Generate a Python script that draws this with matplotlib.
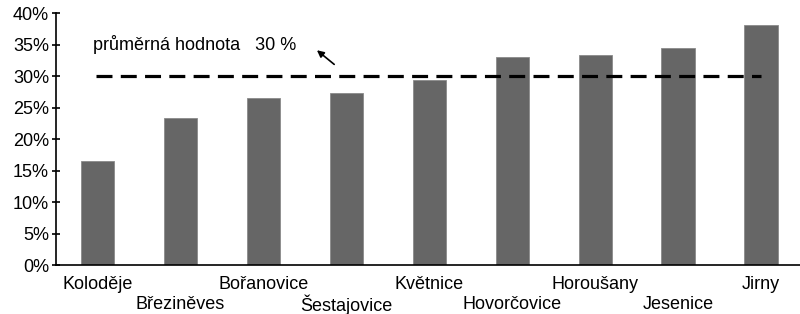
import matplotlib
matplotlib.use("Agg")
import matplotlib.pyplot as plt

# data
obce = ["Koloděje", "Březiněves", "Bořanovice", "Šestajovice", "Květnice",
        "Hovorčovice", "Horoušany", "Jesenice", "Jirny"]
podil = [16.6, 23.3, 26.5, 27.3, 29.4, 33.1, 33.4, 34.4, 38.1]
prumer = 30
yticks = [0, 5, 10, 15, 20, 25, 30, 35, 40]

plt.rcParams['font.family'] = ['Liberation Sans', 'DejaVu Sans']

fig = plt.figure(figsize=(8, 3.14), dpi=100)
ax = fig.add_axes([0.07, 0.155, 0.93, 0.803])

x = list(range(len(obce)))
ax.bar(x, podil, width=0.4, color='#666666', edgecolor='#8a8a8a', linewidth=0.6)

# average line
ax.plot([-0.02, 8.0], [prumer, prumer], color='black', linestyle=(0, (5, 2.6)), linewidth=2.3)
ax.text(-0.05, 35.1, f"průměrná hodnota   {prumer} %", fontsize=13, va='center', ha='left')
ax.annotate("", xy=(2.62, 34.4), xytext=(2.88, 31.6),
            arrowprops=dict(arrowstyle='-|>', color='black', lw=1.2, mutation_scale=10))

ax.set_xlim(-0.5, 8.47)
ax.set_ylim(0, 40)
ax.set_yticks(yticks)
ax.set_yticklabels([f"{t}%" for t in yticks], fontsize=13)
ax.tick_params(axis='y', direction='inout', length=6, width=1.2, pad=2)
ax.set_xticks([])

for i, name in enumerate(obce):
    yy = -3.0 if i % 2 == 0 else -6.2
    ax.text(i, yy, name, fontsize=13, ha='center', va='center', clip_on=False)

ax.spines['top'].set_visible(False)
ax.spines['right'].set_visible(False)
ax.spines['left'].set_linewidth(1.2)
ax.spines['bottom'].set_linewidth(1.2)

fig.savefig("out.png", dpi=100)
